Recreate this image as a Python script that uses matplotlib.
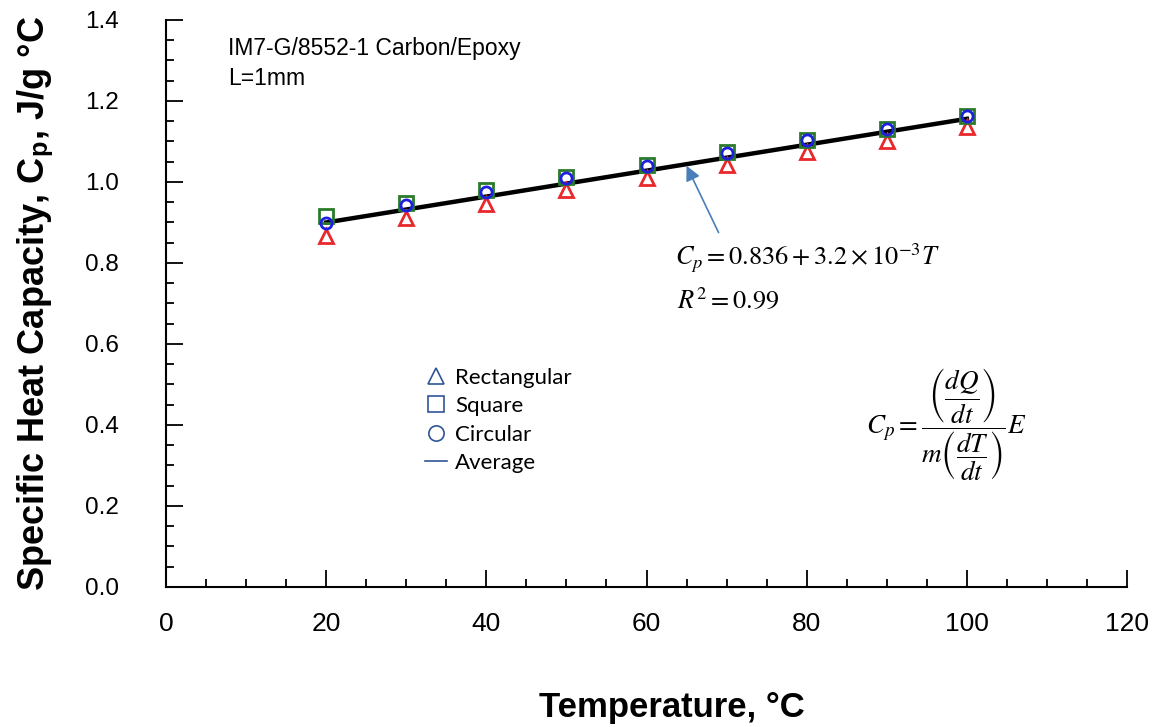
import matplotlib.pyplot as plt
from matplotlib.lines import Line2D
from matplotlib.ticker import MultipleLocator

# data
temps = [20, 30, 40, 50, 60, 70, 80, 90, 100]
cp_rect = [0.867, 0.912, 0.945, 0.979, 1.009, 1.042, 1.075, 1.102, 1.135]
cp_square = [0.916, 0.947, 0.980, 1.013, 1.041, 1.075, 1.104, 1.130, 1.163]
cp_circ = [0.898, 0.943, 0.976, 1.009, 1.040, 1.072, 1.104, 1.130, 1.163]
fit_T = [20, 100]
fit_cp = [0.900, 1.156]

plt.rcParams['mathtext.fontset'] = 'stix'

fig = plt.figure(figsize=(11.55, 7.27), dpi=100)
ax = fig.add_axes([0.1437, 0.1926, 0.8321, 0.7799])

ax.plot(fit_T, fit_cp, color='black', lw=3.2, zorder=2)
ax.plot(temps, cp_rect, ls='none', marker='^', ms=10, mfc='none',
        mec='#e8282b', mew=2, zorder=3)
ax.plot(temps, cp_square, ls='none', marker='s', ms=10.5, mfc='none',
        mec='#2a7a2a', mew=2, zorder=3)
ax.plot(temps, cp_circ, ls='none', marker='o', ms=8, mfc='none',
        mec='#1f1fe0', mew=2, zorder=4)

ax.set_xlim(0, 120)
ax.set_ylim(0, 1.4)
ax.xaxis.set_major_locator(MultipleLocator(20))
ax.xaxis.set_minor_locator(MultipleLocator(5))
ax.yaxis.set_major_locator(MultipleLocator(0.2))
ax.yaxis.set_minor_locator(MultipleLocator(0.05))
ax.yaxis.set_major_formatter(plt.FormatStrFormatter('%.1f'))

for s in ['top', 'right']:
    ax.spines[s].set_visible(False)
for s in ['left', 'bottom']:
    ax.spines[s].set_linewidth(1.5)

ax.tick_params(which='both', direction='in', width=1.3, labelsize=17.5,
               labelfontfamily='Liberation Sans')
ax.tick_params(which='major', length=12)
ax.tick_params(which='minor', length=6)
ax.tick_params(axis='y', which='major', pad=34)
ax.tick_params(axis='x', which='major', pad=18, labelsize=19)

ax.set_xlabel('Temperature, °C', fontsize=25, fontweight='bold',
              family='Liberation Sans')
ax.xaxis.set_label_coords(0.526, -0.184)
ax.set_ylabel('Specific Heat Capacity, C$_\\mathregular{p}$, J/g °C', fontsize=26,
              fontweight='bold', family='Liberation Sans', labelpad=21)

ax.text(7.7, 1.33, 'IM7-G/8552-1 Carbon/Epoxy', fontsize=16.5,
        family='Liberation Sans', va='center')
ax.text(7.7, 1.255, 'L=1mm', fontsize=16.5, family='Liberation Sans', va='center')

ax.text(63.5, 0.81, r'$C_p = 0.836 + 3.2\times10^{-3}T$', fontsize=19, va='center')
ax.text(63.8, 0.707, r'$R^2 = 0.99$', fontsize=19, va='center')
ax.text(97.4, 0.40, r'$C_p = \dfrac{\left(\dfrac{dQ}{dt}\right)}{m\left(\dfrac{dT}{dt}\right)}E$',
        fontsize=19.5, va='center', ha='center')

ax.annotate('', xy=(65, 1.04), xytext=(69, 0.875),
            arrowprops=dict(arrowstyle='-|>', color='#4a7ebb', lw=1.2,
                            mutation_scale=22, shrinkA=0, shrinkB=0))

leg_color = '#2f5597'
handles = [
    Line2D([], [], ls='none', marker='^', ms=11, mfc='none', mec=leg_color, mew=1.2),
    Line2D([], [], ls='none', marker='s', ms=11, mfc='none', mec=leg_color, mew=1.2),
    Line2D([], [], ls='none', marker='o', ms=11, mfc='none', mec=leg_color, mew=1.2),
    Line2D([], [], color=leg_color, lw=1.2),
]
ax.legend(handles, ['Rectangular', 'Square', 'Circular', 'Average'],
          loc='upper left', bbox_to_anchor=(0.2487, 0.422), frameon=False,
          prop={'family': 'Lato', 'size': 16}, handlelength=1.0,
          handletextpad=0.35, labelspacing=0.38)

fig.savefig('out.png', dpi=100)
